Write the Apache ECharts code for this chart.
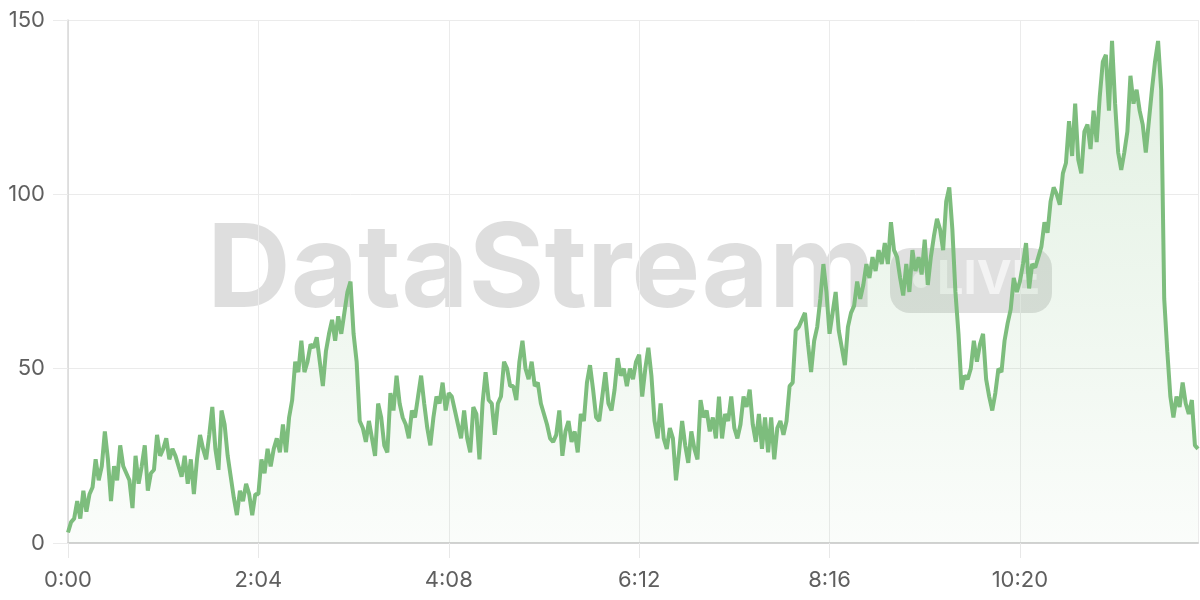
<!DOCTYPE html>
<html>
<head>
<meta charset="utf-8">
<script src="https://cdn.jsdelivr.net/npm/echarts@6/dist/echarts.min.js"></script>
<style>
html,body{margin:0;padding:0;background:#fff;}
#chart{width:1200px;height:600px;}
</style>
</head>
<body>
<div id="chart"></div>
<script>
// Sampling step of the series, in minutes
const STEP_MIN = 2;
// Tick spacing of the time axis, in minutes (2:04)
const TICK_MIN = 124;
const X_MAX_MIN = 736;
const yTicks = [0, 50, 100, 150];

// Values, one every 2 minutes from 0:00
const seg1 = [3,6,7,12,7,15,9,14,16,24,18,22,32,24,12,22,18,28,22,20,18,10,25,17,22,28,15,20,21,31,25,27,30,24,27,25,22,19,25,17,24,14,24,31,27,24,31,39,27,21,38,34,25,19,13,8,15,12,17,14,8,14];
const seg2 = [14,24,20,27,22,27,30,26,34,26,36,41,52,49,58,49,52,57,56,59,52,45,55,60,64,58,65,60,66,72,75,60,52,35,33,29,35,30,25,40,36,28,26,43,38,48,40,36,34,30,38,36,42,48,40,33,28,36,42,40,46,38];
const seg3 = [43,42,38,34,30,38,30,26,39,37,24,40,49,41,40,31,40,42,52,50,45,45,41,52,58,50,47,52,45,46,40,37,34,30,29,31,38,25,32,35,29,32,26,37,35,46,51,44,36,35,42,49,40,38,44,53,48,50,45,50,47,52];
const seg4 = [54,42,50,56,48,35,30,40,30,27,33,30,18,26,35,28,23,32,27,24,41,36,38,32,36,30,42,30,37,35,42,33,30,34,42,39,44,34,29,37,27,36,26,36,24,33,35,31,35,45,46,61,62,64,66,57,49,58,62,70,80,72];
const seg5 = [60,66,72,61,56,51,62,66,68,75,70,74,80,76,82,78,84,80,86,80,92,84,82,76,71,80,72,84,78,82,77,87,74,82,88,93,90,84,98,102,90,72,60,44,48,47,50,58,52,57,60,47,42,38,43,50,49,58,63,67,76,72];
const seg6 = [75,80,86,73,80,79,82,85,92,89,98,102,100,97,106,109,121,111,126,110,106,118,120,113,124,115,128,138,140,124,144,126,112,107,112,118,134,126,130,124,120,112,121,130,138,144,130,70,55,42,36,42,39,46,40,37,41,28,27];

const values = [].concat(seg1, seg2, seg3, seg4, seg5, seg6);
const points = values.map((v, i) => [i * STEP_MIN, v]);

function fmtTime(m) {
  const h = Math.floor(m / 60), mm = Math.round(m % 60);
  return h + ':' + (mm < 10 ? '0' : '') + mm;
}

const chart = echarts.init(document.getElementById('chart'), null, {renderer: 'canvas'});
const FONT = 'Inter, "Noto Sans", sans-serif';
chart.setOption({
  animation: false,
  backgroundColor: '#ffffff',
  grid: {left: 68, right: 2, top: 20, bottom: 57, containLabel: false},
  graphic: [
    {type: 'text', z: -10, left: 207, top: 214,
     style: {text: 'DataStream', font: '700 116px Inter, sans-serif', fill: 'rgba(0,0,0,0.13)'}},
    {type: 'rect', z: -10, shape: {x: 890, y: 248, width: 162, height: 65, r: 20},
     style: {fill: 'rgba(0,0,0,0.12)'}},
    {type: 'circle', z: -9, shape: {cx: 921, cy: 280, r: 8},
     style: {fill: 'rgba(255,255,255,0.6)'}},
    {type: 'text', z: -9, x: 937, y: 280,
     style: {text: 'LIVE', font: '700 47px Inter, sans-serif', fill: 'rgba(255,255,255,0.6)', verticalAlign: 'middle', align: 'left'}}
  ],
  xAxis: {
    type: 'value', min: 0, max: X_MAX_MIN, interval: TICK_MIN,
    axisLine: {show: true, lineStyle: {color: '#d2d2d2', width: 2}},
    axisTick: {show: true, length: 15, lineStyle: {color: '#e8e8e8'}},
    splitLine: {show: true, lineStyle: {color: '#ebebeb', width: 1}},
    axisLabel: {color: '#5f5f5f', fontSize: 22, fontFamily: FONT, margin: 26, showMaxLabel: false,
      formatter: v => fmtTime(v)}
  },
  yAxis: {
    type: 'value', min: yTicks[0], max: yTicks[yTicks.length - 1], interval: yTicks[1] - yTicks[0],
    axisLine: {show: true, lineStyle: {color: '#d9d9d9', width: 1.5}},
    axisTick: {show: true, length: 15, lineStyle: {color: '#ebebeb'}},
    splitLine: {show: true, lineStyle: {color: '#ebebeb', width: 1}},
    axisLabel: {color: '#5f5f5f', fontSize: 22, fontFamily: FONT, margin: 23}
  },
  series: [{
    type: 'line',
    data: points,
    showSymbol: false,
    symbol: 'none',
    z: 5,
    lineStyle: {color: '#7dbd7d', width: 4},
    areaStyle: {
      color: new echarts.graphic.LinearGradient(0, 0, 0, 1, [
        {offset: 0, color: 'rgba(125,189,125,0.32)'},
        {offset: 1, color: 'rgba(125,189,125,0.05)'}
      ])
    }
  }]
});
</script>
</body>
</html>
